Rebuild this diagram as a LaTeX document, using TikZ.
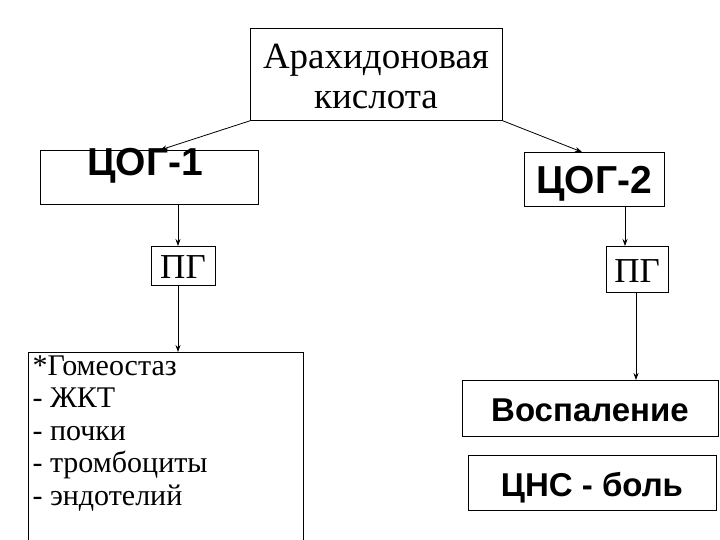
\documentclass[tikz,border=0pt]{standalone}
\usepackage{fontspec}
\setmainfont{Liberation Serif}
\newfontfamily\sansb{Liberation Sans}
\usetikzlibrary{arrows.meta}
\begin{document}
\begin{tikzpicture}[x=1pt,y=-1pt,
  bx/.style={draw,line width=0.8pt,inner sep=0pt},
  ar/.style={line width=0.8pt,-{Stealth[length=7pt,width=5pt]}}]
\useasboundingbox (0,0) rectangle (720,540);
\node[bx,minimum width=252,minimum height=92,anchor=north west] (top) at (250,28) {};
\node[align=center,font=\fontsize{37}{40}\selectfont] at (376,76) {Арахидоновая\\кислота};
\node[bx,minimum width=218,minimum height=54,anchor=north west] (c1) at (40,150) {};
\node[font=\sansb\bfseries\fontsize{39}{42}\selectfont] at (145,166) {ЦОГ-1};
\node[bx,minimum width=140,minimum height=54,anchor=north west] (c2) at (524,152) {};
\node[font=\sansb\bfseries\fontsize{39}{42}\selectfont] at (594,184) {ЦОГ-2};
\node[bx,minimum width=64,minimum height=39,anchor=north west] (p1) at (151,246) {};
\node[font=\fontsize{35}{38}\selectfont] at (183,267) {ПГ};
\node[bx,minimum width=62,minimum height=46,anchor=north west] (p2) at (606,246) {};
\node[font=\fontsize{35}{38}\selectfont] at (637,271) {ПГ};
\draw[line width=0.8pt] (303,545) -- (303,352) -- (28,352) -- (28,545);
\coordinate (g) at (178,352);
\node[anchor=north west,align=left,font=\fontsize{30}{32.5}\selectfont] (gt) at (29,352) {*Гомеостаз\\- ЖКТ\\- почки\\- тромбоциты\\- эндотелий};
\node[bx,minimum width=256,minimum height=56,anchor=north west] (v) at (462,380) {};
\node[font=\sansb\bfseries\fontsize{33}{36}\selectfont] at (590,410) {Воспаление};
\node[bx,minimum width=248,minimum height=55,anchor=north west] (z) at (468,455) {};
\node[font=\sansb\bfseries\fontsize{33}{36}\selectfont] at (592,488) {ЦНС - боль};
\draw[ar] (top.south west) -- (160,150);
\draw[ar] (top.south east) -- (582,152);
\draw[ar] (c1.south -| 178,0) -- (p1.north -| 178,0);
\draw[ar] (c2.south -| 625,0) -- (p2.north -| 625,0);
\draw[ar] (p1.south -| 178,0) -- (g);
\draw[ar] (p2.south -| 636,0) -- (v.north -| 636,0);
\end{tikzpicture}
\end{document}
